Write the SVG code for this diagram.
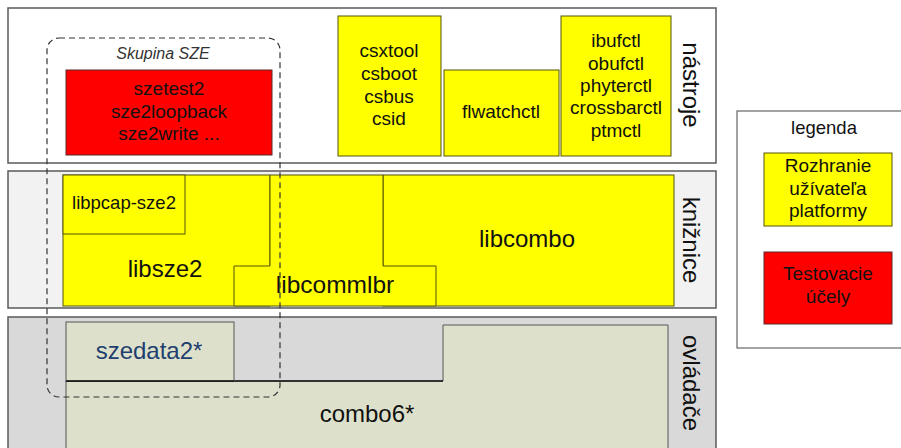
<svg xmlns="http://www.w3.org/2000/svg" width="901" height="448" viewBox="0 0 901 448">
<style>
text{font-family:"Liberation Sans",Arial,sans-serif;fill:#111;text-anchor:middle}
.band{stroke:#5a5a5a;stroke-width:1.5}
.yel{fill:#ffff00;stroke:#55550a;stroke-width:1}
.red{fill:#ff0000;stroke:#5a2a2a;stroke-width:1}
.drv{fill:#dde1cb;stroke:#555;stroke-width:1}
.t17{font-size:19px}
.t22{font-size:24px}
.side{font-size:24px}
</style>
<rect width="901" height="448" fill="#ffffff"/>
<g id="band-nastroje">
<rect class="band" x="8" y="8" width="708" height="155" fill="#ffffff"/>
<text class="side" transform="translate(683,85) rotate(90)">nástroje</text>
</g>
<g id="band-kniznice">
<rect class="band" x="8" y="171" width="708" height="137" fill="#f2f2f2"/>
<text class="side" transform="translate(683,240) rotate(90)">knižnice</text>
</g>
<g id="band-ovladace">
<rect class="band" x="8" y="317" width="708" height="140" fill="#d9d9d9"/>
<text class="side" transform="translate(683,383) rotate(90)">ovládače</text>
</g>
<g id="szetools">
<rect class="red" x="66" y="70" width="206" height="85"/>
<text class="t17" x="169" y="95">szetest2</text>
<text class="t17" x="169" y="118">sze2loopback</text>
<text class="t17" x="169" y="140">sze2write ...</text>
</g>
<g id="cstools">
<rect class="yel" x="338" y="16" width="103" height="140"/>
<text class="t17" x="389" y="57">csxtool</text>
<text class="t17" x="389" y="80">csboot</text>
<text class="t17" x="389" y="103">csbus</text>
<text class="t17" x="389" y="125">csid</text>
</g>
<g id="flwatchctl">
<rect class="yel" x="444" y="70" width="115" height="86"/>
<text class="t17" x="501" y="118">flwatchctl</text>
</g>
<g id="ctltools">
<rect class="yel" x="561" y="16" width="110" height="140"/>
<text class="t17" x="616" y="47">ibufctl</text>
<text class="t17" x="616" y="70">obufctl</text>
<text class="t17" x="616" y="92">phyterctl</text>
<text class="t17" x="616" y="114">crossbarctl</text>
<text class="t17" x="616" y="137">ptmctl</text>
</g>
<g id="libsze2">
<rect class="yel" x="63" y="175" width="207" height="131"/>
<text class="t22" x="165" y="277">libsze2</text>
</g>
<g id="libcombo">
<rect class="yel" x="383" y="175" width="291" height="131"/>
<text class="t22" x="527" y="247">libcombo</text>
</g>
<g id="libcommlbr">
<polygon class="yel" points="270,175 383,175 383,266 436,266 436,306 234,306 234,266 270,266"/>
<text x="335" y="293" style="font-size:24.5px">libcommlbr</text>
</g>
<g id="libpcap-sze2">
<rect class="yel" x="63" y="175" width="122" height="59"/>
<text x="124" y="209" style="font-size:18.5px">libpcap-sze2</text>
</g>
<g id="combo6">
<polygon class="drv" points="66,381 443,381 443,325 668,325 668,460 66,460"/>
<line x1="66" y1="381" x2="443" y2="381" stroke="#111" stroke-width="1.5"/>
<text class="t22" x="367" y="422">combo6*</text>
</g>
<g id="szedata2">
<rect class="drv" x="66" y="322" width="168" height="59"/>
<line x1="66" y1="381" x2="234" y2="381" stroke="#111" stroke-width="1.5"/>
<text x="149" y="359" style="font-size:24px;fill:#1f3f6f">szedata2*</text>
</g>
<g id="skupina-sze">
<rect x="47" y="38" width="233" height="359" rx="12" ry="12" fill="none" stroke="#333" stroke-width="1.2" stroke-dasharray="6,4"/>
<text x="163" y="59" style="font-size:16px;font-style:italic;fill:#333">Skupina SZE</text>
</g>
<g id="legenda">
<rect x="737" y="111" width="180" height="237" fill="#ffffff" stroke="#666" stroke-width="1.2"/>
<text x="824" y="134" style="font-size:18.5px">legenda</text>
<rect class="yel" x="764" y="153" width="128" height="73"/>
<text class="t17" x="828" y="172">Rozhranie</text>
<text class="t17" x="828" y="195">užívateľa</text>
<text class="t17" x="828" y="217">platformy</text>
<rect class="red" x="764" y="252" width="128" height="72"/>
<text class="t17" x="828" y="280">Testovacie</text>
<text class="t17" x="828" y="303">účely</text>
</g>
<g id="connectors"></g>
</svg>
